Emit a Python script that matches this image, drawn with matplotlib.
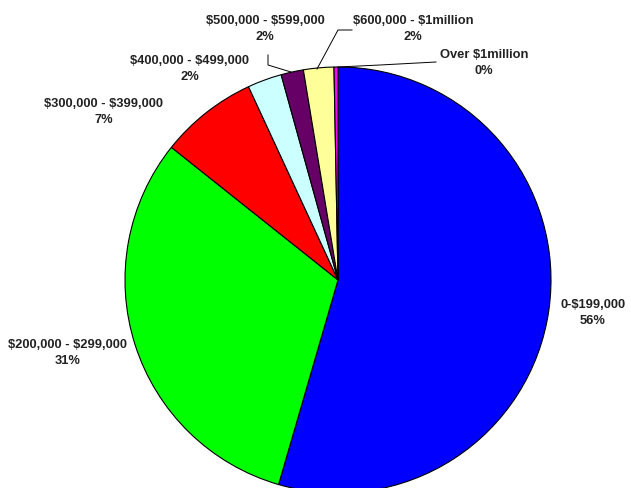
import matplotlib.pyplot as plt

ranges = ["0-$199,000", "$200,000 - $299,000", "$300,000 - $399,000",
          "$400,000 - $499,000", "$500,000 - $599,000",
          "$600,000 - $1million", "Over $1million"]
shares = [54.5, 31.2, 7.4, 2.6, 1.7, 2.3, 0.3]
pct_text = ["56%", "31%", "7%", "2%", "2%", "2%", "0%"]
colors = ["#0000FF", "#00FF00", "#FF0000", "#CCFFFF", "#660066", "#FFFF99", "#FF00FF"]

W, H = 631, 488
fig = plt.figure(figsize=(W / 100, H / 100), dpi=100)
ax = fig.add_axes([0, 0, 1, 1])


def py(y):
    # pixel row -> data y
    return H - y


ax.pie(shares, colors=colors, startangle=90, counterclock=False,
       center=(338, py(280)), radius=213, frame=True,
       wedgeprops=dict(edgecolor="black", linewidth=0.8))
ax.set_xlim(0, W)
ax.set_ylim(0, H)
ax.set_aspect("equal")
ax.axis("off")

# label centres in pixels
label_pos = [(593, 313), (68, 353), (104, 112), (190, 69),
             (265, 29), (413, 29), (484, 63)]
for name, pct, (x, y) in zip(ranges, pct_text, label_pos):
    ax.text(x, py(y), name + "\n" + pct, ha="center", va="center",
            fontsize=9.3, fontweight="bold", family=["Liberation Sans", "DejaVu Sans"],
            linespacing=1.4, parse_math=False, color="#222222")

# leader lines
leaders = [
    [(268, 55), (268, 65), (291, 72)],
    [(352, 30), (338, 30), (317, 69)],
    [(436, 62), (380, 65), (338, 67)],
]
for pts in leaders:
    xs = [p[0] for p in pts]
    ys = [py(p[1]) for p in pts]
    ax.plot(xs, ys, color="black", linewidth=0.7)

fig.savefig("out.png", dpi=100)
